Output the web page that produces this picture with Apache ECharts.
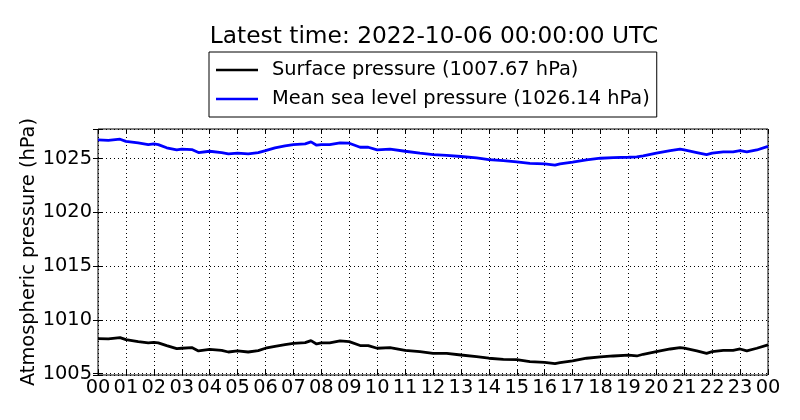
<!DOCTYPE html>
<html>
<head>
<meta charset="utf-8">
<script src="https://cdn.jsdelivr.net/npm/echarts@6/dist/echarts.min.js"></script>
<style>
  html, body { margin: 0; padding: 0; background: #fff; }
  #chart { width: 800px; height: 420px; }
</style>
</head>
<body>
<div id="chart"></div>
<script>
// hours since 2022-10-05 00:00 UTC
const hours = [0, 0.37, 0.79, 1, 1.44, 1.8, 2, 2.16, 2.46, 2.82, 3, 3.36, 3.6, 4, 4.43, 4.67, 5, 5.38, 5.74, 6,
    6.34, 6.7, 7, 7.42, 7.63, 7.83, 8, 8.3, 8.67, 9, 9.39, 9.68, 10, 10.46, 11, 11.53, 12, 12.49, 13, 13.56,
    14, 14.52, 15, 15.47, 16, 16.37, 16.55, 17, 17.5, 18, 18.46, 19, 19.3, 19.53, 20, 20.5, 20.85, 21, 21.45, 21.8,
    22, 22.4, 22.75, 23, 23.24, 23.6, 24];

const surfacePressure = [1008.24, 1008.22, 1008.34, 1008.15, 1007.97, 1007.84, 1007.9, 1007.85, 1007.6, 1007.31,
    1007.35, 1007.41, 1007.1, 1007.25, 1007.16, 1007.0, 1007.1, 1007.0, 1007.13, 1007.35,
    1007.53, 1007.69, 1007.81, 1007.87, 1008.06, 1007.75, 1007.84, 1007.84, 1008.03, 1007.97,
    1007.6, 1007.6, 1007.35, 1007.41, 1007.16, 1007.03, 1006.88, 1006.88, 1006.72, 1006.57,
    1006.42, 1006.32, 1006.29, 1006.1, 1006.04, 1005.92, 1006.01, 1006.17, 1006.42, 1006.54,
    1006.63, 1006.7, 1006.63, 1006.79, 1007.03, 1007.28, 1007.41, 1007.35, 1007.1, 1006.88,
    1007.03, 1007.16, 1007.16, 1007.28, 1007.1, 1007.35, 1007.67];

const seaLevelPressure = [1026.74, 1026.7, 1026.8, 1026.6, 1026.46, 1026.3, 1026.37, 1026.3, 1026.0, 1025.8,
    1025.87, 1025.84, 1025.56, 1025.68, 1025.56, 1025.44, 1025.5, 1025.44, 1025.56, 1025.74,
    1026.0, 1026.18, 1026.3, 1026.37, 1026.55, 1026.24, 1026.3, 1026.3, 1026.46, 1026.43,
    1026.05, 1026.05, 1025.8, 1025.87, 1025.68, 1025.5, 1025.37, 1025.3, 1025.19, 1025.06,
    1024.9, 1024.81, 1024.69, 1024.56, 1024.5, 1024.38, 1024.5, 1024.66, 1024.88, 1025.03,
    1025.09, 1025.12, 1025.15, 1025.25, 1025.5, 1025.74, 1025.87, 1025.8, 1025.56, 1025.37,
    1025.5, 1025.62, 1025.62, 1025.74, 1025.62, 1025.8, 1026.14];

const latestTime = '2022-10-06 00:00:00 UTC';
const yMin = 1004.86, yMax = 1027.75;

const font = 'DejaVu Sans';
const fs = 19.4;
const pair = vals => hours.map((h, i) => [h, vals[i]]);
const hourLabel = v => String(Math.round(v) % 24).padStart(2, '0');
const last = a => a[a.length - 1];

const dotted = { show: true, lineStyle: { color: '#000', width: 1, type: [1, 3] } };
const tick = { show: true, inside: true, length: 5, lineStyle: { color: '#000', width: 1 } };

const names = ['Surface pressure (' + last(surfacePressure).toFixed(2) + ' hPa)',
               'Mean sea level pressure (' + last(seaLevelPressure).toFixed(2) + ' hPa)'];

const chart = echarts.init(document.getElementById('chart'), null, { renderer: 'canvas' });
chart.setOption({
    animation: false,
    backgroundColor: '#fff',
    textStyle: { fontFamily: font },
    title: {
        text: 'Latest time: ' + latestTime,
        left: 429, top: 20, textAlign: 'center',
        textStyle: { fontFamily: font, fontSize: 23.3, fontWeight: 'normal', color: '#000' }
    },
    legend: {
        orient: 'vertical',
        left: 209, top: 52,
        padding: [8, 7, 8, 7],
        itemGap: 9,
        itemWidth: 42, itemHeight: 2.5,
        icon: 'rect',
        borderColor: '#000', borderWidth: 1, backgroundColor: '#fff',
        textStyle: { fontFamily: font, fontSize: fs, color: '#000', lineHeight: 20, padding: [0, 0, 0, 9] },
        data: names
    },
    grid: {
        left: 98, right: 32, top: 129, bottom: 45,
        show: true, borderColor: '#000', borderWidth: 1, backgroundColor: 'transparent'
    },
    xAxis: [{
        type: 'value', min: 0, max: 24, interval: 1,
        axisLine: { show: false },
        axisTick: tick,
        splitLine: dotted,
        axisLabel: { formatter: hourLabel, fontFamily: font, fontSize: fs, color: '#000', margin: 3 }
    }, {
        type: 'value', min: 0, max: 24, interval: 1, position: 'top',
        axisLine: { show: false }, axisTick: tick, splitLine: { show: false }, axisLabel: { show: false }
    }],
    yAxis: [{
        type: 'value', min: yMin, max: yMax, splitNumber: 5,
        name: 'Atmospheric pressure (hPa)', nameLocation: 'middle', nameGap: 60,
        nameMoveOverlap: false,
        nameTextStyle: { fontFamily: font, fontSize: fs, color: '#000' },
        axisLine: { show: false },
        axisTick: tick,
        splitLine: dotted,
        axisLabel: {
            formatter: v => (Math.abs(v % 5) < 1e-6 ? String(Math.round(v)) : ''),
            fontFamily: font, fontSize: fs, color: '#000', margin: 6
        }
    }, {
        type: 'value', min: yMin, max: yMax, splitNumber: 5, position: 'right',
        axisLine: { show: false }, axisTick: tick, splitLine: { show: false }, axisLabel: { show: false }
    }],
    series: [{
        name: names[0],
        type: 'line', symbol: 'none',
        color: '#000000',
        lineStyle: { color: '#000000', width: 2.8 },
        data: pair(surfacePressure)
    }, {
        name: names[1],
        type: 'line', symbol: 'none',
        color: '#0000ff',
        lineStyle: { color: '#0000ff', width: 2.8 },
        data: pair(seaLevelPressure)
    }]
});
</script>
</body>
</html>
